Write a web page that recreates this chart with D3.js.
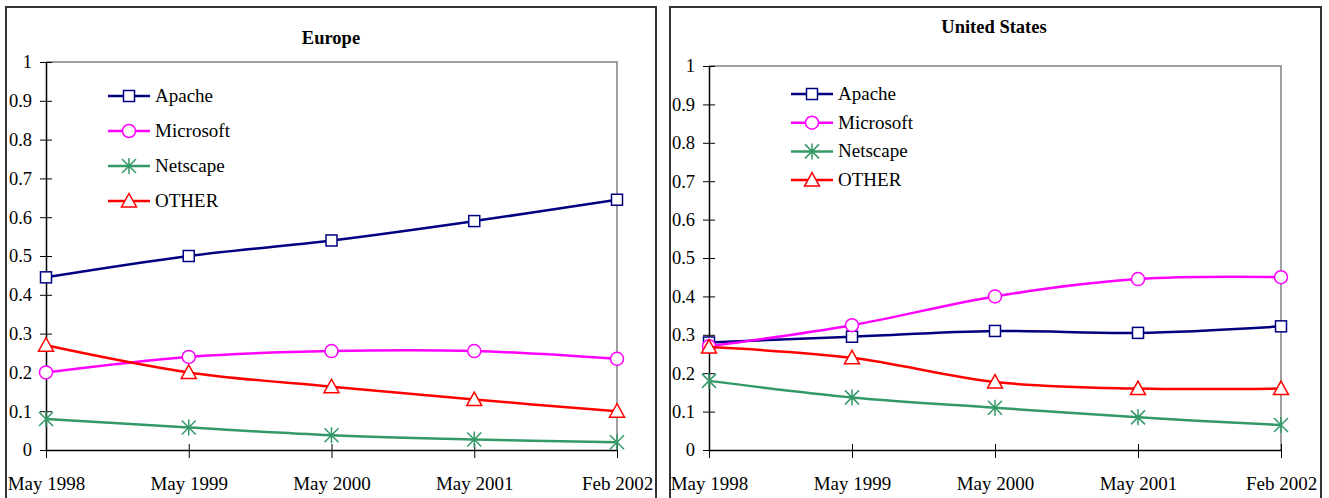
<!DOCTYPE html>
<html><head><meta charset="utf-8">
<script src="https://cdn.jsdelivr.net/npm/d3@7"></script>
<style>
html,body{margin:0;padding:0;background:#fff;}
svg text{font-family:"Liberation Serif","Times New Roman",serif;}
</style></head>
<body>
<svg id="chart" width="1329" height="498"></svg>
<script>
const categories = ["May 1998", "May 1999", "May 2000", "May 2001", "Feb 2002"];
const seriesNames = ["Apache", "Microsoft", "Netscape", "OTHER"];
const yTicks = [0, 0.1, 0.2, 0.3, 0.4, 0.5, 0.6, 0.7, 0.8, 0.9, 1];
const yTickLabels = ["0", "0.1", "0.2", "0.3", "0.4", "0.5", "0.6", "0.7", "0.8", "0.9", "1"];

const europeApache    = [0.445, 0.500, 0.540, 0.590, 0.645];
const europeMicrosoft = [0.200, 0.240, 0.255, 0.255, 0.235];
const europeNetscape  = [0.080, 0.058, 0.038, 0.027, 0.020];
const europeOther     = [0.270, 0.200, 0.163, 0.130, 0.100];

const usApache    = [0.280, 0.295, 0.310, 0.305, 0.322];
const usMicrosoft = [0.270, 0.325, 0.400, 0.445, 0.450];
const usNetscape  = [0.180, 0.137, 0.110, 0.085, 0.065];
const usOther     = [0.268, 0.240, 0.177, 0.160, 0.160];

const colors = {Apache:"#000080", Microsoft:"#FF00FF", Netscape:"#339966", OTHER:"#FF0000"};
const markers = {Apache:"square", Microsoft:"circle", Netscape:"star", OTHER:"triangle"};

const panels = [
  {title:"Europe", titleX:331, titleY:44, box:[6,7,650,500],
   x0:46, x1:617, yTop:62, yBot:450,
   legX:108, legY:96, legDy:35,
   data:[europeApache, europeMicrosoft, europeNetscape, europeOther]},
  {title:"United States", titleX:994, titleY:33, box:[670,7,651,500],
   x0:709, x1:1281, yTop:66, yBot:450,
   legX:791, legY:94, legDy:28.7,
   data:[usApache, usMicrosoft, usNetscape, usOther]}
];

const svg = d3.select("#chart");

function drawMarker(g, type, color, cx, cy){
  const m = g.append("g").attr("transform", `translate(${cx},${cy})`)
    .attr("fill","#fff").attr("stroke", color).attr("stroke-width",1.5);
  if(type==="square"){
    m.append("rect").attr("x",-5.5).attr("y",-5.5).attr("width",11).attr("height",11);
  } else if(type==="circle"){
    m.append("circle").attr("r",6.5);
  } else if(type==="triangle"){
    m.append("path").attr("d","M0,-7.5L7.5,6L-7.5,6Z");
  } else if(type==="star"){
    m.append("path").attr("fill","none").attr("d","M-7,-7L7,7M-7,7L7,-7M0,-8L0,8");
  }
}

panels.forEach(p => {
  svg.append("rect").attr("x",p.box[0]).attr("y",p.box[1]).attr("width",p.box[2]).attr("height",p.box[3])
    .attr("fill","none").attr("stroke","#333").attr("stroke-width",2);

  const x = d3.scalePoint().domain(categories).range([p.x0, p.x1]);
  const y = d3.scaleLinear().domain([0,1]).range([p.yBot, p.yTop]);

  svg.append("path").attr("d",`M${p.x0},${p.yTop}H${p.x1}V${p.yBot}`)
    .attr("fill","none").attr("stroke","#808080").attr("stroke-width",1.5);

  const ya = svg.append("g").attr("transform",`translate(${p.x0},0)`)
    .call(d3.axisLeft(y).tickValues(yTicks).tickFormat((d,i)=>yTickLabels[i]).tickSize(6).tickSizeOuter(0).tickPadding(8));
  ya.select(".domain").attr("stroke","#000").attr("stroke-width",1.5);
  ya.selectAll(".tick line").attr("x1",6).attr("stroke","#000");
  ya.selectAll(".tick text").attr("font-size",18.5).attr("fill","#000")
    .attr("font-family","'Liberation Serif','Times New Roman',serif");

  const xa = svg.append("g").attr("transform",`translate(0,${p.yBot})`)
    .call(d3.axisBottom(x).tickSize(8).tickSizeOuter(0).tickPadding(19));
  xa.select(".domain").attr("stroke","#000").attr("stroke-width",1.5);
  xa.selectAll(".tick line").attr("y1",-6).attr("stroke","#000");
  xa.selectAll(".tick text").attr("font-size",19).attr("fill","#000")
    .attr("font-family","'Liberation Serif','Times New Roman',serif");

  svg.append("text").attr("x",p.titleX).attr("y",p.titleY).attr("text-anchor","middle")
    .attr("font-size",18.5).attr("font-weight","bold").text(p.title);

  const line = d3.line().x((d,i)=>x(categories[i])).y(d=>y(d)).curve(d3.curveCatmullRom.alpha(0.5));

  seriesNames.forEach((name, si) => {
    const vals = p.data[si];
    const g = svg.append("g");
    g.append("path").attr("d", line(vals)).attr("fill","none")
      .attr("stroke", colors[name]).attr("stroke-width",2.5);
    vals.forEach((v,i) => drawMarker(g, markers[name], colors[name], x(categories[i]), y(v)));

    const ly = p.legY + si*p.legDy;
    const lg = svg.append("g");
    lg.append("line").attr("x1",p.legX).attr("x2",p.legX+42).attr("y1",ly).attr("y2",ly)
      .attr("stroke",colors[name]).attr("stroke-width",2.5);
    drawMarker(lg, markers[name], colors[name], p.legX+21, ly);
    lg.append("text").attr("x",p.legX+47).attr("y",ly+6).attr("font-size",19).attr("fill","#000").text(name);
  });
});
</script>
</body></html>
